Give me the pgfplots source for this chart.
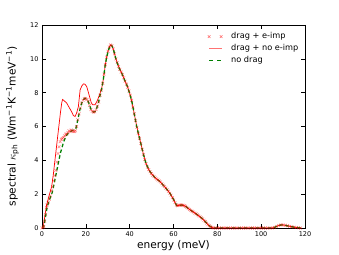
\documentclass[border=0pt]{standalone}
\usepackage{fontspec}
\setmainfont{DejaVu Sans}
\usepackage{pgfplots}
\pgfplotsset{compat=1.18}
\definecolor{mplred}{rgb}{1,0,0}
\definecolor{mplgreen}{rgb}{0,0.5,0}
\begin{document}
\begin{tikzpicture}
\begin{axis}[
  scale only axis, width=263pt, height=203pt,
  xmin=0, xmax=120, ymin=0, ymax=12,
  xtick={0,20,...,120}, ytick={0,2,...,12},
  tick align=inside, major tick length=4pt,
  tick style={black, line width=0.5pt},
  tick label style={font=\fontsize{6.5}{7}\selectfont},
  /pgf/number format/assume math mode=true,
  xlabel={energy (meV)},
  ylabel={spectral $\kappa_{\mathrm{ph}}$ (Wm\textsuperscript{−1}K\textsuperscript{−1}meV\textsuperscript{−1})},
  label style={font=\fontsize{10.6}{12}\selectfont},
  xlabel style={at={(axis description cs:0.5,-0.089)}, anchor=center},
  ylabel style={at={(axis description cs:-0.112,0.5)}, anchor=center},
  axis line style={line width=0.7pt},
  legend style={draw=none, fill=none, at={(0.985,0.975)}, anchor=north east,
    font=\fontsize{8.2}{9.5}\selectfont, row sep=1.2pt, column sep=7pt, inner sep=1pt,
    nodes={inner sep=1.5pt}},
  legend cell align=left,
]
% drag + e-imp (markers)
\addplot[only marks, mark=x, mark size=2pt, mplred, mark options={draw opacity=0.45, line width=0.6pt},
  legend image code/.code={\draw[only marks, mark=x, mark size=1.8pt, mplred, mark options={draw opacity=0.6, line width=0.6pt}] plot coordinates {(0pt,0pt) (12pt,0pt)};}] coordinates {
(0,0) (0.5,0.04) (0.8,0.08) (1.2,0.4) (1.6,0.8) (2.0,1.2) (2.3,1.36) (2.8,1.5) (3.3,1.7) (3.8,1.9)
(4.3,2.2) (4.8,2.45) (5.3,2.8) (5.8,3.1) (6.3,3.4) (6.8,3.9) (7.3,4.4) (7.8,4.8) (8.3,5.1) (8.8,5.25)
(9.3,5.3) (9.8,5.35) (10.3,5.45) (10.8,5.55) (11.3,5.55) (11.8,5.65) (12.3,5.75) (12.8,5.7) (13.3,5.8) (13.8,5.75)
(14.3,5.7) (14.8,5.7) (15.3,5.75) (15.8,6.0) (16.3,6.4) (16.9,6.75) (17.5,7.1) (18.1,7.38) (18.7,7.55) (19.3,7.65)
(19.9,7.66) (20.5,7.6) (21.1,7.48) (21.7,7.25) (22.3,7.0) (22.9,6.9) (23.5,6.85) (24.1,6.87) (24.7,7.0) (25.3,7.2)
(25.9,7.45) (26.5,7.85) (27.1,8.15) (27.7,8.55) (28.3,9.1) (28.9,9.65) (29.5,10.1) (30.1,10.45) (30.7,10.7) (31.3,10.82)
(31.9,10.78) (32.5,10.58) (33.1,10.3) (33.7,10.0) (34.3,9.78) (34.9,9.55) (35.5,9.38) (36.1,9.22) (36.7,9.07) (37.3,8.88)
(37.9,8.68) (38.5,8.5) (39.1,8.32) (39.7,8.1) (40.3,7.85) (40.9,7.55) (41.5,7.15) (42.1,6.75) (42.7,6.35) (43.3,5.95)
(43.9,5.6) (44.5,5.3) (45.1,5.0) (45.7,4.65) (46.3,4.35) (46.9,4.05) (47.5,3.8) (48.1,3.6) (48.7,3.45) (49.3,3.33)
(49.9,3.22) (50.5,3.12) (51.1,3.04) (51.7,2.96) (52.3,2.9) (52.9,2.84) (53.5,2.78) (54.1,2.72) (54.7,2.62) (55.3,2.53)
(55.9,2.45) (56.5,2.36) (57.1,2.27) (57.7,2.17) (58.3,2.06) (58.9,1.94) (59.5,1.8) (60.1,1.65) (60.7,1.5) (61.3,1.36)
(61.9,1.32) (62.5,1.34) (63.1,1.36) (63.7,1.36) (64.3,1.35) (64.9,1.32) (65.5,1.28) (66.1,1.22) (66.7,1.16) (67.3,1.1)
(67.9,1.04) (68.5,0.99) (69.1,0.94) (69.7,0.89) (70.3,0.84) (70.9,0.78) (71.5,0.72) (72.1,0.67) (72.7,0.6) (73.3,0.54)
(73.9,0.46) (74.5,0.38) (75.1,0.29) (75.7,0.2) (76.3,0.13) (76.9,0.07) (77.5,0.03) (78.1,0)
(79,0) (80,0) (81,0) (82,0) (83,0) (84,0) (85,0) (86,0) (87,0) (88,0) (89,0) (90,0) (91,0) (92,0)
(93,0) (94,0) (95,0) (96,0) (97,0) (98,0) (99,0) (100,0) (101,0) (102,0) (103,0) (104,0) (105,0)
(106,0.03) (107,0.09) (108,0.15) (109,0.18) (110,0.18) (111,0.16) (112,0.13) (113,0.1) (114,0.07) (115,0.05)
(116,0.03) (117,0.01) (118,0)
};
\addlegendentry{drag + e-imp}
% drag + no e-imp (solid red)
\addplot[mplred, line width=0.7pt, no marks,
  legend image code/.code={\draw[red!55, line width=1.1pt] (0pt,0pt) -- (13pt,0pt);}] coordinates {
(0,0) (0.6,0.08) (1.3,0.7) (2.1,1.36) (3.2,1.9) (4.4,2.44) (5.2,3.2) (5.9,4.0) (6.7,4.9) (7.5,5.8)
(8.4,6.8) (9.0,7.4) (9.4,7.6) (10.3,7.5) (11.3,7.38) (12.5,7.1) (13.5,6.88) (14.3,6.65) (15.1,6.59) (15.8,6.8)
(16.6,7.18) (17.4,8.17) (18.2,8.4) (18.9,8.52) (19.6,8.5) (20.4,8.36) (21.2,8.0) (21.9,7.67) (22.5,7.4) (23.1,7.28)
(24.2,7.28) (25.3,7.55) (26.5,7.97) (27.3,8.3) (28,8.8) (28.9,9.65) (29.5,10.1) (30.1,10.45) (30.7,10.7) (31.3,10.82)
(31.9,10.78) (32.5,10.58) (33.1,10.3) (33.7,10.0) (34.3,9.78) (35.5,9.38) (36.7,9.07) (37.9,8.68) (39.1,8.32) (40.3,7.85)
(41.5,7.15) (42.7,6.35) (43.9,5.6) (45.1,5.0) (46.3,4.35) (47.5,3.8) (48.7,3.45) (49.9,3.22) (51.1,3.04) (52.3,2.9)
(53.5,2.78) (54.7,2.62) (55.9,2.45) (57.1,2.27) (58.3,2.06) (59.5,1.8) (60.7,1.5) (61.3,1.36) (61.9,1.32) (63.1,1.36)
(64.3,1.35) (65.5,1.28) (66.7,1.16) (67.9,1.04) (69.1,0.94) (70.3,0.84) (71.5,0.72) (72.7,0.6) (73.9,0.46) (75.1,0.29)
(76.3,0.13) (77.5,0.03) (78.1,0) (105,0) (106,0.03) (107,0.09) (108,0.15) (109,0.18) (110,0.18) (111,0.16)
(112,0.13) (113,0.1) (114,0.07) (115,0.05) (116,0.03) (117,0.01) (118,0)
};
\addlegendentry{drag + no e-imp}
% no drag (green dashed)
\addplot[mplgreen, line width=1.3pt, dash pattern=on 3.5pt off 2.5pt, no marks,
  legend image code/.code={\draw[mplgreen, line width=1.1pt, dash pattern=on 4pt off 4pt] (0pt,0pt) -- (13pt,0pt);}] coordinates {
(0,0) (0.8,0.08) (1.5,0.6) (2.3,1.2) (3.2,1.6) (4.6,2.07) (5.5,2.6) (6.8,3.43) (8.4,4.43) (9.9,5.1)
(11,5.45) (12,5.6) (13,5.7) (14.3,5.8) (15.5,5.9) (16.6,6.55) (17.3,7.0) (18.1,7.38) (19,7.6) (19.6,7.67)
(20.3,7.62) (21.1,7.48) (22,7.15) (22.7,6.92) (23.5,6.85) (24.2,6.88) (25,7.1) (25.7,7.38) (26.5,7.85) (27.2,8.2)
(28,8.8) (28.8,9.6) (29.5,10.1) (30.3,10.5) (31,10.75) (31.4,10.83) (32,10.75) (32.7,10.5) (33.4,10.15) (34.1,9.84)
(35,9.5) (36.4,9.15) (37.5,8.8) (38.7,8.46) (40,7.95) (41,7.48) (42,6.8) (43.2,6.0) (44.7,5.2) (46,4.5)
(47,4.0) (48,3.65) (49.3,3.33) (51,3.05) (52.5,2.88) (53.9,2.74) (55.5,2.5) (57,2.28) (58.4,2.05) (60,1.7)
(61.5,1.32) (62.5,1.33) (63.8,1.36) (65.3,1.30) (66.5,1.18) (67.6,1.07) (69,0.95) (70.5,0.82) (72.1,0.67) (73.5,0.52)
(75.2,0.28) (76.5,0.12) (77.5,0.04) (78,0) (105,0) (106.5,0.06) (108,0.16) (109.5,0.18) (111,0.15) (113,0.1)
(115,0.05) (117,0.02) (118,0)
};
\addlegendentry{no drag}
\end{axis}
\path ([shift={(-42pt,-26pt)}]current axis.south west) rectangle ([shift={(34pt,25pt)}]current axis.north east);
\end{tikzpicture}
\end{document}
